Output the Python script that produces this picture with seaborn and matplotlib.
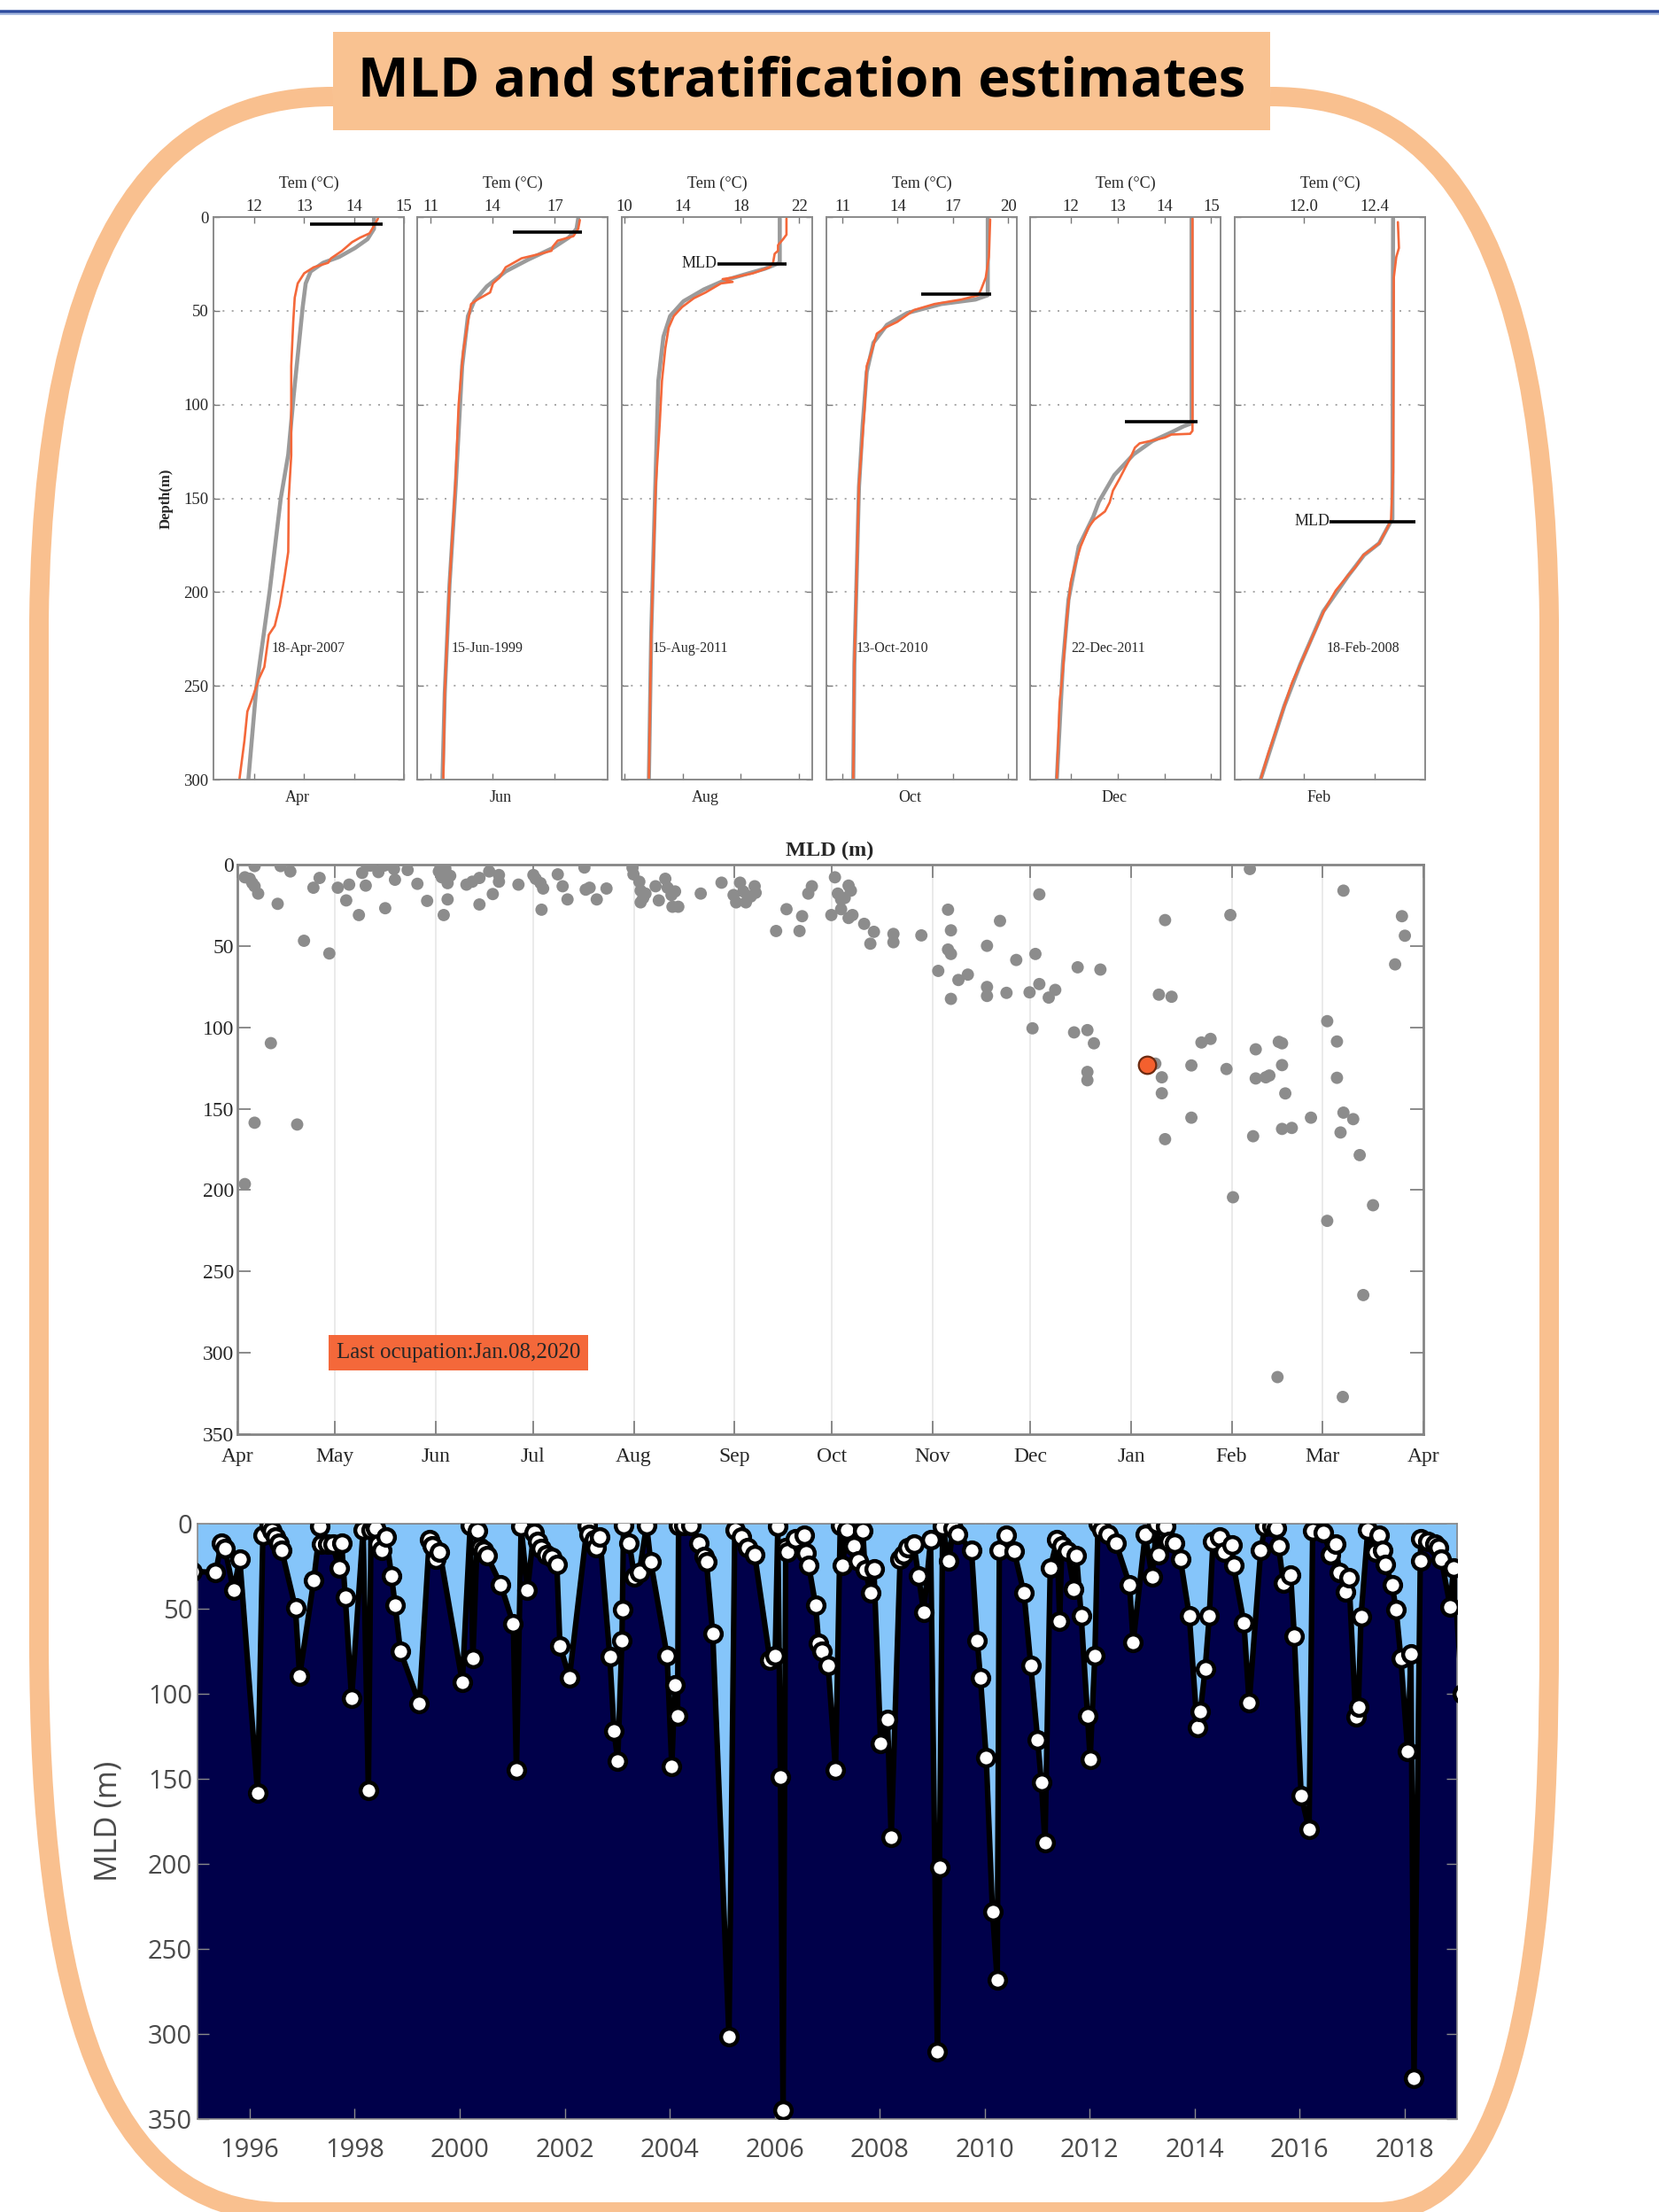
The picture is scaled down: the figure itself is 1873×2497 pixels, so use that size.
import numpy as np
import pandas as pd
import matplotlib
matplotlib.use("Agg")
import matplotlib.pyplot as plt
import seaborn as sns
from matplotlib.path import Path
from matplotlib.patches import PathPatch, Rectangle

# ======================= DATA =======================
TITLE = "MLD and stratification estimates"

PROFILE_MONTHS = ["Apr", "Jun", "Aug", "Oct", "Dec", "Feb"]
PROFILE_DATES = ["18-Apr-2007", "15-Jun-1999", "15-Aug-2011", "13-Oct-2010", "22-Dec-2011", "18-Feb-2008"]
PROFILE_XTICKS = [[12, 13, 14, 15], [11, 14, 17], [10, 14, 18, 22], [11, 14, 17, 20], [12, 13, 14, 15], [12.0, 12.4]]
PROFILE_XTICKLABELS = [["12", "13", "14", "15"], ["11", "14", "17"], ["10", "14", "18", "22"],
                       ["11", "14", "17", "20"], ["12", "13", "14", "15"], ["12.0", "12.4"]]
DEPTH_TICKS = [0, 50, 100, 150, 200, 250, 300]

# observed profiles (depth m, temperature C)
OBS_APR = [(0.8, 14.48), (4.7, 14.40), (8.7, 14.31), (11, 14.12), (13.4, 13.96), (18, 13.76), (22, 13.54),
           (24.4, 13.48), (26.8, 13.19), (30, 13.0), (35.4, 12.87), (43, 12.81), (56, 12.78), (79.5, 12.74),
           (127, 12.74), (150, 12.69), (178.6, 12.68), (192.9, 12.60), (207, 12.51), (218, 12.41), (222.8, 12.29),
           (240, 12.20), (246.4, 12.09), (257.4, 11.95), (263.7, 11.86), (279.5, 11.80), (300, 11.70)]
OBS_JUN = [(1.6, 18.21), (6.3, 18.13), (10.2, 17.90), (12.6, 17.14), (15.7, 16.91), (18, 16.84), (19.6, 16.31),
           (22, 15.40), (26.8, 14.63), (32.3, 14.33), (35.4, 14.02), (40.2, 13.88), (44, 13.27), (46.4, 12.96),
           (55.9, 12.81), (71.6, 12.58), (100, 12.36), (143, 12.20), (196, 11.92), (254, 11.69), (300, 11.62)]
OBS_AUG = [(0.8, 21.13), (9.4, 21.13), (11.8, 20.90), (15, 20.55), (18, 20.55), (19.6, 20.32), (24.4, 20.21),
           (26.8, 19.97), (30, 18.82), (32.3, 17.43), (33.1, 16.75), (34.6, 17.43), (35.4, 16.63), (40.2, 15.58),
           (43.3, 14.77), (48, 13.96), (52.8, 13.39), (59, 13.04), (70, 12.81), (87.3, 12.58), (110.9, 12.42),
           (144, 12.15), (222.8, 11.84), (300, 11.68)]
OBS_OCT = [(1.3, 19.03), (16.5, 18.98), (21.3, 18.96), (32.3, 18.79), (38.6, 18.54), (41.7, 18.39), (44, 17.47),
           (46.4, 16.0), (49.6, 14.89), (55.9, 13.98), (59, 13.33), (62.2, 12.87), (71.6, 12.59), (79.5, 12.32),
           (103, 12.2), (142.7, 11.9), (238.6, 11.65), (300, 11.59)]
OBS_DEC = [(0.8, 14.60), (114, 14.60), (115.6, 14.55), (116, 14.15), (117.6, 14.01), (119.2, 13.74), (120.7, 13.47),
           (123, 13.37), (128.6, 13.27), (133.3, 13.17), (139.6, 13.04), (145.9, 12.90), (152.2, 12.83), (157, 12.73),
           (161.4, 12.50), (165.4, 12.38), (175.6, 12.21), (186.6, 12.08), (194.5, 12.0), (215, 11.91),
           (241.8, 11.83), (259.1, 11.76), (300, 11.70)]
OBS_FEB = [(2.7, 12.531), (16.5, 12.537), (21.3, 12.522), (32.3, 12.508), (136, 12.504), (158, 12.494),
           (161.4, 12.4925), (166.1, 12.47), (174, 12.425), (177.2, 12.381), (180.3, 12.336), (186.6, 12.292),
           (191.4, 12.247), (199.2, 12.18), (210.3, 12.113), (224.5, 12.046), (238.6, 11.98), (248, 11.935),
           (260.7, 11.89), (273.3, 11.845), (285.9, 11.80), (300, 11.756)]
# fitted profiles (depth m, temperature C)
FIT_APR = [(0, 14.40), (6.3, 14.40), (11.8, 14.27), (16.5, 14.02), (21.3, 13.70), (24.4, 13.38), (29, 13.13),
           (35.4, 13.03), (48, 12.97), (95, 12.79), (126.7, 12.68), (150, 12.53), (199, 12.31), (251, 12.04), (300, 11.88)]
FIT_JUN = [(0.8, 18.13), (6.3, 18.05), (11, 17.67), (16.5, 16.91), (22.8, 15.70), (29, 14.63), (37, 13.72),
           (44.9, 13.11), (52.8, 12.81), (79.5, 12.53), (143, 12.22), (196, 11.92), (254, 11.69), (300, 11.58)]
FIT_AUG = [(0.8, 20.67), (24.4, 20.67), (27.6, 19.63), (30.7, 18.23), (33.9, 16.84), (38.6, 15.46), (44.9, 14.06),
           (52.8, 13.14), (63.8, 12.68), (87.3, 12.33), (144, 12.12), (222.8, 11.84), (300, 11.68)]
FIT_OCT = [(0.8, 18.9), (41.7, 18.9), (44, 18.23), (46.4, 16.37), (51.2, 14.52), (57.5, 13.42), (67, 12.69),
           (82.7, 12.32), (111, 12.1), (144, 11.9), (238.6, 11.65), (300, 11.59)]
FIT_DEC = [(0.8, 14.58), (110, 14.58), (111.6, 14.41), (114.8, 14.15), (119.5, 13.74), (126.6, 13.34),
           (137.6, 12.93), (151.8, 12.60), (159.8, 12.48), (175.6, 12.17), (204, 11.95), (238.6, 11.83), (300, 11.70)]
FIT_FEB = [(0.8, 12.504), (161, 12.50), (166.1, 12.47), (174, 12.425), (180.3, 12.34), (191.4, 12.25),
           (210.3, 12.11), (238.6, 11.98), (260.7, 11.89), (300, 11.756)]
OBS_PROFILES = [OBS_APR, OBS_JUN, OBS_AUG, OBS_OCT, OBS_DEC, OBS_FEB]
FIT_PROFILES = [FIT_APR, FIT_JUN, FIT_AUG, FIT_OCT, FIT_DEC, FIT_FEB]

MLD_DEPTH = [3.9, 7.9, 24.9, 41.1, 109.1, 162.5]
MLD_TEM_FROM = [13.11, 14.98, 16.37, 15.26, 13.16, 12.146]
MLD_TEM_TO = [14.57, 18.31, 21.13, 19.09, 14.705, 12.63]
MLD_LABELED = [False, False, True, False, False, True]

# climatological MLD scatter (days since 1 April, MLD m)
MONTH_LABELS = ["Apr", "May", "Jun", "Jul", "Aug", "Sep", "Oct", "Nov", "Dec", "Jan", "Feb", "Mar", "Apr"]
MONTH_DAYS = [0, 30, 61, 91, 122, 153, 183, 214, 244, 275, 306, 334, 365]
MLD_TICKS = [0, 50, 100, 150, 200, 250, 300, 350]
SCATTER_DAY = [2.3, 3.8, 4.6, 5.3, 6.4, 5.3, 12.4, 13.3, 16.3, 20.5, 23.4, 25.3, 28.3, 30.9, 33.5, 34.4, 37.4, 38.4,
               39.5, 39.9, 41, 43.4, 45.2, 45.5, 48.2, 48.5, 52.4, 55.4, 58.4, 62.5, 62, 62.9, 64, 64.7, 65.5, 64.7,
               63.5, 70.5, 72.3, 74.5, 74.5, 77.5, 78.6, 80.5, 80.5, 86.5, 91.1, 91.8, 93.3, 94.1, 93.6, 98.6, 100.1,
               101.6, 106.8, 107.2, 108.4, 110.6, 113.6, 121.6, 121.9, 123.7, 124.1, 124.9, 124.1, 125.6, 128.7,
               129.7, 131.7, 132.4, 133.6, 134.7, 133.9, 135.7, 142.6, 149, 152.7, 153.5, 154.7, 155.7, 156.5, 158,
               159.2, 159.5, 165.8, 169, 173, 173.8, 175.7, 176.8, 183.9, 182.8, 184.8, 185.8, 185.8, 186.9, 188.1,
               188.8, 188.1, 189.3, 192.9, 195.9, 194.8, 201.9, 201.9, 210.5,
               10.3, 5.3, 18.4, 2.3,
               218.7, 219.6, 218.7, 219.6, 215.7, 221.9, 224.8, 219.6, 230.7, 230.7, 230.7, 234.7, 236.7, 239.7,
               243.8, 245.6, 246.8, 246.8, 249.7, 251.7, 244.7, 258.6, 265.6, 257.5, 261.6, 263.6, 261.6, 261.6,
               282.5, 284.5, 284.5, 285.5, 283.6, 287.5, 285.5, 293.6, 293.6, 296.7, 299.5, 304.4, 305.6, 311.6,
               306.4, 312.6, 313.4, 313.4, 316.5, 317.6, 320.5, 321.5, 321.5, 322.5, 321.5, 324.5, 330.4, 335.4,
               338.4, 338.4, 340.4, 340.4, 343.4, 339.5, 345.4, 335.4, 349.5, 356.3, 358.4, 359.3, 346.5, 320.1, 340.2]
SCATTER_MLD = [7.8, 8.7, 11.4, 13.3, 17.8, 0.9, 24.1, 0.9, 4.2, 46.8, 14.2, 8.2, 54.6, 14.2, 22, 12.3, 31, 5.1,
               12.9, 0.6, 0.6, 4.6, 0.6, 26.8, 2.7, 9.3, 3.3, 11.8, 22.3, 0.6, 4.2, 7.8, 2.4, 11.4, 6.9, 21.4,
               31, 12.3, 10.5, 8.2, 24.5, 4.2, 18.1, 6.4, 10.5, 12.3, 6.4, 8.7, 11.4, 14.7, 27.7, 6.0, 13.3,
               21.4, 1.8, 15.4, 14.2, 21.4, 14.7, 2.0, 6.0, 10.5, 16, 20.5, 23.2, 17.8, 13.3,
               22, 8.7, 14.2, 18.7, 16.5, 25.9, 25.9, 17.8, 11.1, 18.7, 23.2, 11.1, 16.5, 23.2, 19.6,
               13.3, 17.3, 40.8, 27.4, 40.8, 31.7, 17.8, 13.3, 7.8, 31, 17.8, 21.4, 27.4, 20.5, 12.9,
               16, 32.8, 31, 36.4, 41.3, 48.6, 42.6, 47.7, 43.5,
               109.7, 158.6, 159.7, 196.3,
               27.7, 40.4, 52.2, 54.9, 65.3, 70.9, 67.6, 82.5, 49.9, 75.2, 80.7, 34.6, 78.8, 58.6,
               78.5, 54.9, 18.3, 73.4, 81.7, 77, 100.6, 63.1, 64.5, 103.1, 101.7, 109.8, 127.4, 132.5,
               122.3, 130.7, 140.5, 34.1, 79.9, 81.2, 168.7, 123.4, 155.5, 109.3, 107.1, 125.6, 31, 2.7,
               204.4, 166.9, 113.5, 131.4, 130.7, 129.6, 108.9, 109.8, 123.2, 140.6, 162.4, 161.8, 155.5, 96.2,
               108.7, 131.0, 16, 152.4, 156.4, 164.6, 178.5, 218.9, 209.3, 61.3, 31.7, 43.7, 264.5, 314.9, 327.1]
LAST_DAY = [280]
LAST_MLD = [122.9]
LAST_LABEL = "Last ocupation:Jan.08,2020"

# MLD time series (decimal year, MLD m)
TS_YEAR = [1994.9, 1995.35, 1995.46, 1995.53, 1995.69, 1995.81, 1996.15, 1996.25, 1996.37, 1996.42, 1996.49,
           1996.56, 1996.61, 1996.87, 1996.95, 1997.22, 1997.34, 1997.36, 1997.49, 1997.58, 1997.70, 1997.75,
           1997.82, 1997.94, 1998.16, 1998.26, 1998.31, 1998.39, 1998.45, 1998.52, 1998.60, 1998.70, 1998.77,
           1998.87, 1999.23, 1999.42, 1999.47, 1999.55, 1999.62, 2000.05, 2000.20, 2000.25, 2000.34, 2000.39,
           2000.46, 2000.52, 2000.78, 2001.02, 2001.08, 2001.17, 2001.29, 2001.41, 2001.49, 2001.55, 2001.65,
           2001.75, 2001.85, 2001.91, 2002.09, 2002.43, 2002.47, 2002.57, 2002.60, 2002.67, 2002.86, 2002.94,
           2003.01, 2003.09, 2003.10, 2003.12, 2003.23, 2003.33, 2003.42, 2003.56, 2003.64, 2003.95, 2004.04,
           2004.10, 2004.15, 2004.17, 2004.27, 2004.41, 2004.56, 2004.65, 2004.70, 2004.82, 2005.13, 2005.24,
           2005.36, 2005.48, 2005.62, 2005.91, 2006.01, 2006.06, 2006.11, 2006.16, 2006.21, 2006.25, 2006.40,
           2006.56, 2006.59, 2006.65, 2006.78, 2006.84, 2006.90, 2007.02, 2007.16, 2007.25, 2007.29, 2007.38,
           2007.51, 2007.59, 2007.68, 2007.72, 2007.83, 2007.89, 2008.02, 2008.15, 2008.22, 2008.39, 2008.45,
           2008.54, 2008.65, 2008.74, 2008.84, 2008.97, 2009.10, 2009.14, 2009.20, 2009.32, 2009.40, 2009.49,
           2009.75, 2009.86, 2009.92, 2010.03, 2010.15, 2010.24, 2010.28, 2010.41, 2010.56, 2010.75, 2010.88,
           2011.01, 2011.08, 2011.15, 2011.25, 2011.38, 2011.43, 2011.47, 2011.58, 2011.70, 2011.75, 2011.84,
           2011.96, 2012.01, 2012.10, 2012.16, 2012.24, 2012.36, 2012.50, 2012.76, 2012.83, 2013.06, 2013.19,
           2013.28, 2013.32, 2013.45, 2013.51, 2013.62, 2013.73, 2013.90, 2014.05, 2014.11, 2014.20, 2014.28,
           2014.35, 2014.48, 2014.57, 2014.71, 2014.74, 2014.94, 2015.04, 2015.26, 2015.34, 2015.47, 2015.56,
           2015.60, 2015.69, 2015.83, 2015.90, 2016.03, 2016.18, 2016.25, 2016.46, 2016.59, 2016.69, 2016.76,
           2016.87, 2016.94, 2017.07, 2017.12, 2017.17, 2017.30, 2017.45, 2017.52, 2017.58, 2017.64, 2017.76,
           2017.84, 2017.93, 2018.06, 2018.12, 2018.18, 2018.30, 2018.31, 2018.44, 2018.57, 2018.64, 2018.70,
           2018.87, 2018.93, 2019.1]
TS_MLD = [28, 28.7, 11.3, 14.8, 39.2, 20.9, 158.5, 7.0, 0.9, 4.4, 7.8,
          11.3, 15.7, 49.6, 89.7, 33.1, 1.7, 12.2, 12.2, 12.2, 26.1, 11.3,
          43.2, 102.8, 3.5, 156.8, 3.5, 2.6, 12.2, 15.7, 7.8, 30.5, 47.9,
          74.9, 105.9, 9.6, 13.1, 20.9, 16.5, 93.2, 0.9, 79.3, 4.4, 13.9,
          15.7, 18.8, 35.7, 58.9, 144.6, 1.7, 39.2, 5.2, 10.5, 14.8, 18.3,
          20.0, 24.0, 71.8, 90.6, 0.9, 6.1, 9.6, 13.9, 7.8, 78.4, 121.9,
          139.4, 68.8, 50.5, 0.9, 11.3, 31.4, 28.7, 0.9, 22.6, 77.5, 142.8,
          94.9, 113.2, 0.9, 0.9, 0.9, 11.3, 19.2, 22.6, 64.5, 301.6, 3.5,
          7.8, 13.9, 18.3, 80.1, 77.5, 1.7, 148.9, 345, 13.9, 16.5, 8.7,
          7.0, 17.4, 24.7, 47.9, 70.6, 74.9, 83.6, 144.6, 0.9, 24.7, 3.5,
          13.1, 21.8, 4.4, 27.0, 40.9, 26.5, 129.3, 115.0, 184.3, 20.9, 18.3,
          13.9, 11.8, 30.5, 52.3, 9.6, 310.3, 202.1, 1.4, 21.8, 2.6, 6.1,
          15.7, 68.8, 90.6, 137.6, 228.2, 268.6, 15.7, 7.0, 16.0, 40.9, 83.6,
          127.2, 151.9, 187.8, 26.1, 9.6, 57.5, 13.1, 16.0, 38.3, 18.8, 54.4,
          112.9, 138.5, 77.5, 0.0, 3.5, 6.1, 11.3, 35.7, 69.7, 6.1, 31.4,
          0.0, 18.3, 1.7, 10.5, 11.3, 20.9, 54.4, 119.9, 110.6, 85.7, 54.4,
          10.5, 7.8, 16.5, 12.5, 24.4, 58.4, 105.4, 15.7, 1.7, 1.7, 2.6,
          13.1, 34.8, 30.0, 66.2, 159.9, 179.8, 4.4, 5.2, 18.3, 12.2, 28.7,
          40.1, 31.7, 113.6, 107.7, 54.9, 3.5, 16.5, 7.0, 15.7, 24.0, 35.7,
          50.5, 79.3, 134.1, 76.7, 326, 21.8, 8.7, 10.5, 12.2, 13.9, 20.9,
          48.8, 26.1, 100]
YEAR_TICKS = list(range(1996, 2019, 2))

# ======================= STYLE / LAYOUT =======================
sns.set_theme(style="white")
SERIF = ["Liberation Serif", "DejaVu Serif"]
SANS = ["Open Sans", "DejaVu Sans"]
plt.rcParams["font.family"] = SERIF

W, H = 1874, 2497
fig = plt.figure(figsize=(W / 100, H / 100), dpi=100)
fig.patch.set_facecolor("white")


def ax_px(x0, y0, x1, y1, **kw):
    return fig.add_axes([x0 / W, 1 - y1 / H, (x1 - x0) / W, (y1 - y0) / H], **kw)


PX = 72 / 100  # points per pixel

# ---------- decoration layer ----------
bg = ax_px(0, 0, W, H)
bg.set_xlim(0, W)
bg.set_ylim(H, 0)
bg.axis("off")
bg.plot([0, W], [13, 13], color="#2C4A9E", lw=3.5 * PX, solid_capstyle="butt")
bg.plot([0, W], [16, 16], color="#8FA6D8", lw=1.5 * PX, solid_capstyle="butt")

verts = [(376, 109), (230, 109), (50, 190), (44, 700),
         (44, 1850),
         (44, 2260), (120, 2497), (320, 2497),
         (1554, 2497),
         (1700, 2497), (1749, 2260), (1749, 1850),
         (1749, 700),
         (1743, 190), (1580, 109), (1434, 109)]
codes = [Path.MOVETO, Path.CURVE4, Path.CURVE4, Path.CURVE4,
         Path.LINETO,
         Path.CURVE4, Path.CURVE4, Path.CURVE4,
         Path.LINETO,
         Path.CURVE4, Path.CURVE4, Path.CURVE4,
         Path.LINETO,
         Path.CURVE4, Path.CURVE4, Path.CURVE4]
bg.add_patch(PathPatch(Path(verts, codes), fill=False, edgecolor="#F9C08F", lw=22 * PX, capstyle="butt"))
bg.add_patch(Rectangle((376, 36), 1058, 111, facecolor="#F9C291", edgecolor="none"))
bg.text(905, 93, TITLE, ha="center", va="center", fontsize=44, fontweight="bold",
        family=["Open Sans", "DejaVu Sans"], color="black")

# ---------- profile panels ----------
PANEL_LEFTS = [241, 471, 702, 933, 1163, 1394]
PANEL_XLIMS = [(11.18, 15.0), (10.36, 19.55), (9.82, 22.9), (10.13, 20.48), (11.13, 15.2), (11.61, 12.685)]
DATE_XFRAC = [0.307, 0.18, 0.162, 0.158, 0.213, 0.484]
GRAY_SPINE = "#8A8A8A"

for i in range(6):
    ax = ax_px(PANEL_LEFTS[i], 245, PANEL_LEFTS[i] + 215, 880)
    ax.set_facecolor("white")
    for d in DEPTH_TICKS[1:-1]:
        ax.axhline(d, color="#9A9A9A", lw=1.2, ls=(0, (1.2, 5.0)), zorder=0)
    fit = pd.DataFrame(FIT_PROFILES[i], columns=["depth", "tem"])
    obs = pd.DataFrame(OBS_PROFILES[i], columns=["depth", "tem"])
    sns.lineplot(data=fit, x="tem", y="depth", sort=False, estimator=None, color="#9B9B9B", lw=3.3, ax=ax)
    sns.lineplot(data=obs, x="tem", y="depth", sort=False, estimator=None, color="#F4683A", lw=1.9, ax=ax)
    ax.plot([MLD_TEM_FROM[i], MLD_TEM_TO[i]], [MLD_DEPTH[i], MLD_DEPTH[i]], color="black", lw=2.6,
            solid_capstyle="butt")
    if MLD_LABELED[i]:
        ax.text(MLD_TEM_FROM[i], MLD_DEPTH[i], "MLD", ha="right", va="center", fontsize=13)
    ax.set_xlim(*PANEL_XLIMS[i])
    ax.set_ylim(300, 0)
    ax.set_xticks(PROFILE_XTICKS[i])
    ax.set_xticklabels(PROFILE_XTICKLABELS[i])
    ax.set_yticks(DEPTH_TICKS)
    ax.set_yticklabels([str(v) for v in DEPTH_TICKS])
    ax.set_xlabel("")
    ax.set_ylabel("")
    ax.tick_params(axis="x", direction="in", top=True, bottom=True, labeltop=True, labelbottom=False,
                   length=5, width=1, color="#777777", labelsize=13.5, pad=2)
    ax.tick_params(axis="y", direction="in", left=True, right=True, labelleft=(i == 0), labelright=False,
                   length=5, width=1, color="#777777", labelsize=13.5, pad=4)
    for s in ax.spines.values():
        s.set_color(GRAY_SPINE)
        s.set_linewidth(1.4)
    ax.text(0.5, 1 + 38 / 635, "Tem (\u00b0C)", transform=ax.transAxes, ha="center", va="center", fontsize=13)
    ax.text(0.44, -20 / 635, PROFILE_MONTHS[i], transform=ax.transAxes, ha="center", va="center", fontsize=13)
    ax.text(DATE_XFRAC[i], 230, PROFILE_DATES[i], transform=ax.get_yaxis_transform(), ha="left",
            va="center", fontsize=11.5)
    if i == 0:
        ax.text(-53 / 215, 0.5, "Depth(m)", transform=ax.transAxes, rotation=90, ha="center", va="center",
                fontsize=12, fontweight="bold")
    if ax.get_legend():
        ax.get_legend().remove()

# ---------- climatological MLD scatter ----------
ax2 = ax_px(268, 976, 1607, 1619)
ax2.set_facecolor("white")
for d in MONTH_DAYS[1:-1]:
    ax2.axvline(d, color="#E6E6E6", lw=1.2, zorder=0)
sns.scatterplot(x=SCATTER_DAY, y=SCATTER_MLD, color="#8C8C8C", s=100, edgecolor="none", ax=ax2, zorder=3)
sns.scatterplot(x=LAST_DAY, y=LAST_MLD, color="#F4602E", s=200, edgecolor="#6B2A10", linewidth=1.6, ax=ax2,
                zorder=4)
ax2.set_xlim(0, 365)
ax2.set_ylim(350, 0)
ax2.set_xticks(MONTH_DAYS)
ax2.set_xticklabels(MONTH_LABELS)
ax2.set_yticks(MLD_TICKS)
ax2.set_yticklabels([str(v) for v in MLD_TICKS])
ax2.tick_params(axis="both", direction="in", top=True, bottom=True, left=True, right=True, length=11,
                width=1.2, color="#777777", labelsize=17)
ax2.tick_params(axis="x", pad=11)
ax2.tick_params(axis="y", pad=3)
for s in ax2.spines.values():
    s.set_color("#858585")
    s.set_linewidth(2)
ax2.text(0.4996, 1 + 16 / 643, "MLD (m)", transform=ax2.transAxes, ha="center", va="center", fontsize=17.5,
         fontweight="bold")
ax2.text(68, 300, LAST_LABEL, ha="center", va="center", fontsize=18,
         bbox=dict(facecolor="#F4683A", edgecolor="none", boxstyle="square,pad=0.35"))
ax2.set_xlabel("")
ax2.set_ylabel("")

# ---------- MLD time series ----------
ax3 = ax_px(222.7, 1720, 1645, 2391.7)
ax3.set_facecolor("#00004A")
ax3.fill_between(TS_YEAR, 0, TS_MLD, color="#85C5FA", lw=0, zorder=1)
sns.lineplot(x=TS_YEAR, y=TS_MLD, sort=False, estimator=None, color="black", lw=4.5, marker="o",
             markersize=13.5, markerfacecolor="white", markeredgecolor="black", markeredgewidth=3.2, ax=ax3,
             zorder=3)
ax3.set_xlim(1995, 2019)
ax3.set_ylim(350, 0)
ax3.set_xticks(YEAR_TICKS)
ax3.set_xticklabels([str(y) for y in YEAR_TICKS], family=SANS, fontsize=21, color="#4A4A4A")
ax3.set_yticks(MLD_TICKS)
ax3.set_yticklabels([str(v) for v in MLD_TICKS], family=SANS, fontsize=21, color="#4A4A4A")
ax3.tick_params(axis="both", direction="in", top=True, bottom=True, left=True, right=True, length=9,
                width=1, color="#8A8A8A")
ax3.tick_params(axis="x", pad=15)
ax3.tick_params(axis="y", pad=4)
for s in ax3.spines.values():
    s.set_color("#8A8A8A")
    s.set_linewidth(1.2)
ax3.set_xlabel("")
ax3.set_ylabel("")
ax3.text(-100 / 1422, 0.5, "MLD (m)", transform=ax3.transAxes, rotation=90, ha="center", va="center",
         family=SANS, fontsize=25, color="#4A4A4A")

fig.savefig("out.png", dpi=100, facecolor="white")
